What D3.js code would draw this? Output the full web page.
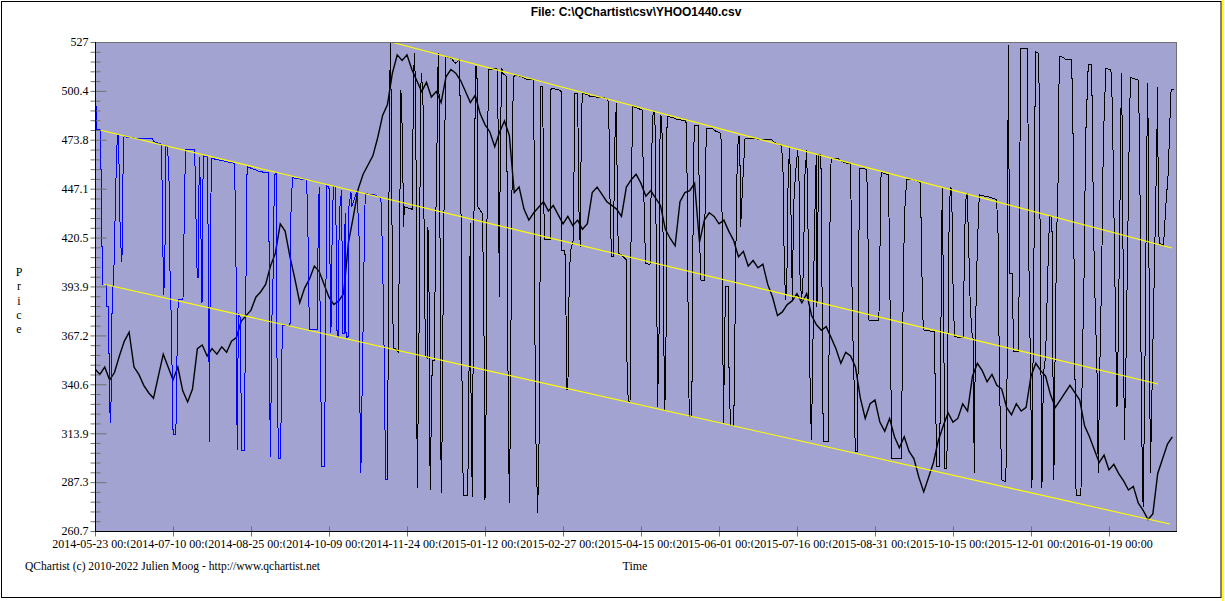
<!DOCTYPE html>
<html>
<head>
<meta charset="utf-8">
<script src="https://cdn.jsdelivr.net/npm/d3@7"></script>
<style>
  html, body { margin: 0; padding: 0; background: #ffffff; }
  svg { display: block; }
</style>
</head>
<body>
<svg id="chart" width="1225" height="601"></svg>
<script>
// ---------------- DATA ----------------
const chartTitle = "File: C:\\QChartist\\csv\\YHOO1440.csv";
const yTickLabels = ["260.7","287.3","313.9","340.6","367.2","393.9","420.5","447.1","473.8","500.4","527"];
const xTickDays = [0,32,64,96,128,160,192,224,256,288,320,352,384,416];
const xTickLabels = ["2014-05-23 00:00","2014-07-10 00:00","2014-08-25 00:00","2014-10-09 00:00",
  "2014-11-24 00:00","2015-01-12 00:00","2015-02-27 00:00","2015-04-15 00:00","2015-06-01 00:00",
  "2015-07-16 00:00","2015-08-31 00:00","2015-10-15 00:00","2015-12-01 00:00","2016-01-19 00:00"];

// close price sampled every 2 bars (bar index = 2*i)
const closePrices = [
  349,346,350,343,347,356,364,369,350,346,
  340,336,333,345,357,350,343,350,337,331,
  338,360,362,356,360,357,361,358,364,366,
  375,378,381,388,391,395,405,412,428,424,
  410,398,385,393,398,405,402,395,388,384,
  386,390,418,432,447,455,460,465,475,487,
  493,510,520,517,520,512,506,500,505,497,
  500,494,508,512,510,506,500,494,498,488,
  482,478,470,478,484,476,445,448,436,430,
  434,437,440,435,438,433,428,432,427,430,
  425,428,445,448,444,440,438,436,432,448,
  452,455,450,443,446,442,438,425,420,416,
  440,445,446,450,418,430,434,432,428,430,
  424,419,410,413,405,408,404,406,395,388,
  378,380,384,386,390,385,390,378,373,370,
  372,366,360,352,358,356,350,333,322,330,
  332,320,315,322,312,306,312,304,300,290,
  282,290,298,310,318,325,320,322,330,326,
  345,352,348,342,346,340,338,328,324,330,
  326,328,345,352,348,345,335,328,332,336,
  340,336,332,318,312,305,298,302,294,297,
  292,288,283,285,276,272,267,270,292,300,
  308,312
];
const closeBarStep = 2;

// channel signal line, [bar index, price] — blue part then black part
const signalBlue = [
  [0.3,495.4],[0.3,491.8],[0.8,491.8],[0.8,479.1],[2.2,479.1],[2.2,457.3],[2.6,457.3],[2.6,415.5],
  [3.0,415.5],[3.0,395.2],[4.9,394.7],[4.9,382.8],[5.5,382.8],[5.5,357.5],[5.9,357.5],[6.0,332.0],
  [6.3,319.3],[6.6,332.0],[7.1,393.7],[7.4,393.7],[7.9,408.3],[8.3,435.5],[8.8,462.7],[9.2,476.4],
  [9.7,476.4],[10.1,434.6],[10.7,413.7],[10.9,407.4],[11.2,413.7],[11.5,455.5],[11.9,475.4],
  [16.9,474.6],[23.5,474.2],[24.1,472.7],[27.2,471.3],[27.5,451.8],[27.9,410.1],[28.2,389.2],
  [28.6,402.8],[28.9,435.5],[29.1,470.0],[29.8,470.0],[30.4,450.0],[30.9,386.5],[31.5,374.7],
  [31.7,325.7],[32.1,313.0],[33.1,313.0],[33.4,325.7],[33.8,374.7],[34.2,386.5],[36.1,386.9],
  [36.4,411.9],[36.8,448.2],[37.2,468.6],[40.9,468.2],[41.2,448.2],[41.8,404.6],[42.3,398.3],
  [42.7,451.8],[42.9,464.5],[43.2,446.4],[43.6,410.1],[43.9,384.7],[44.3,451.8],[44.7,464.9],
  [46.1,464.5],[46.4,422.8],[46.8,348.4],[46.9,309.3],[47.2,386.5],[47.5,439.2],[47.9,463.6],
  [57.3,460.9],[57.7,421.0],[58.1,377.4],[58.3,304.8],[58.5,341.1],[59.0,379.3],[59.5,377.4],
  [59.8,370.2],[60.0,304.8],[61.3,304.4],[61.5,341.1],[61.8,377.4],[62.1,419.2],[62.4,459.1],
  [67.6,456.4],[71.0,455.8],[71.4,417.4],[71.7,341.1],[71.9,301.2],[72.2,328.4],[72.6,377.4],
  [73.0,393.7],[73.3,428.3],[73.7,454.6],[74.3,455.5],[74.5,377.4],[74.9,326.6],[75.4,300.3],
  [76.0,300.3],[76.3,317.5],[76.6,353.8],[77.0,372.9],[80.0,372.3],[80.4,433.7],[81.0,453.1],
  [86.8,451.8],[87.3,431.9],[87.5,408.3],[87.8,382.8],[88.2,370.2],[91.2,370.2],[91.6,430.1],
  [92.0,448.2],[92.4,370.2],[92.7,334.8],[93.0,295.7],[94.1,295.7],[94.4,334.8],[94.6,370.2],
  [95.1,448.6],[96.0,448.2],[96.4,408.3],[96.8,368.4],[97.4,433.7],[97.9,448.2],[98.5,448.2],
  [98.9,426.4],[99.3,368.4],[99.8,366.5],[100.2,433.7],[101.2,446.4],[101.6,368.4],[102.3,368.4],
  [102.6,433.7],[103.0,366.0],[103.9,366.5],[104.2,437.3],[105.0,445.5],[105.3,437.3],[107.4,445.5],
  [108.3,424.6],[108.7,328.4],[109.0,292.1],[109.3,304.8],[109.7,352.0],[110.2,384.7],[110.5,424.6],
  [110.9,444.4],[114.9,443.7],[117.3,441.9],[117.9,414.7],[118.5,370.2],[119.0,313.9],[119.3,288.5],
  [120.1,288.5]
];
const signalBlack = [
  [120.1,288.5],[120.3,382.8],[120.6,441.0],[121.0,510.0],[121.3,527.0],[122.0,401.0],[122.4,359.3],
  [123.1,360.2],[124.4,358.3],[125.0,426.4],[125.5,500.9],[126.1,477.3],[126.6,426.4],[126.9,437.3],
  [130.2,435.9],[130.6,499.1],[131.0,520.8],[131.6,500.9],[132.0,344.7],[132.2,283.9],[132.6,326.6],
  [133.2,401.0],[133.5,499.1],[134.0,510.0],[134.6,491.8],[135.1,411.9],[135.4,375.6],[135.7,355.6],
  [136.3,354.7],[136.6,426.4],[137.0,401.0],[137.3,308.5],[137.6,283.0],[138.0,328.4],[138.4,353.8],
  [139.2,353.8],[139.8,428.3],[140.4,479.1],[140.8,520.8],[141.4,480.9],[141.8,319.3],[142.1,281.2],
  [142.5,323.0],[142.9,401.0],[143.6,484.5],[144.0,519.0],[146.3,518.1],[147.7,515.4],[149.5,517.2],
  [150.0,479.1],[150.4,368.4],[150.7,323.0],[151.1,280.3],[152.9,280.3],[153.3,323.0],[153.7,390.2],
  [154.0,428.3],[154.3,323.0],[154.8,279.4],[155.2,372.0],[155.6,455.5],[156.2,513.5],[156.7,513.5],
  [157.0,437.3],[158.9,433.7],[159.5,390.2],[159.8,317.5],[160.0,277.6],[160.4,317.5],[160.8,426.4],
  [161.4,511.8],[164.8,512.7],[165.2,511.8],[165.6,437.3],[165.9,388.3],[166.3,473.6],[166.9,512.7],
  [167.3,510.0],[168.9,508.1],[169.2,393.7],[169.6,319.3],[170.0,275.8],[170.4,319.3],[170.9,419.2],
  [171.4,491.8],[171.9,508.1],[172.5,509.0],[175.7,507.7],[177.1,506.7],[179.8,506.3],[180.1,477.3],
  [180.5,364.7],[180.9,310.3],[181.6,270.3],[182.2,310.3],[182.6,401.0],[182.9,502.7],[183.5,502.7],
  [183.9,473.6],[184.3,422.8],[184.6,419.2],[186.7,419.2],[187.0,500.9],[187.4,501.8],[190.4,500.9],
  [191.2,500.0],[191.5,413.7],[192.8,413.7],[193.2,382.8],[193.6,337.5],[194.0,337.5],[194.6,401.0],
  [195.2,413.7],[196.2,419.2],[196.9,499.1],[198.0,499.1],[198.6,431.9],[199.1,415.5],[199.5,477.3],
  [199.9,499.1],[202.4,498.1],[203.1,497.2],[207.9,496.9],[209.9,496.3],[210.6,494.5],[211.0,473.6],
  [211.4,430.1],[212.0,410.1],[212.6,410.1],[213.3,473.6],[213.9,493.6],[214.3,442.7],[214.7,411.9],
  [216.1,411.0],[218.0,408.3],[218.3,346.6],[218.8,331.1],[219.5,331.1],[219.8,401.0],[220.2,460.9],
  [220.6,491.8],[224.5,490.0],[224.9,459.1],[225.6,419.2],[226.0,406.5],[227.7,405.6],[228.1,441.0],
  [228.6,477.3],[229.0,489.0],[229.7,489.0],[230.1,437.3],[230.6,368.4],[230.8,328.4],[231.4,368.4],
  [231.8,473.6],[232.2,487.2],[232.8,473.6],[233.3,368.4],[233.8,326.6],[234.3,368.4],[234.7,486.3],
  [237.2,486.0],[238.6,484.9],[242.1,484.1],[242.7,482.7],[243.1,422.8],[243.4,364.7],[243.8,323.0],
  [244.8,323.0],[245.1,364.7],[245.5,455.5],[245.9,481.8],[247.6,481.3],[248.0,430.1],[248.4,397.4],
  [250.0,397.0],[250.3,437.3],[250.8,480.0],[253.0,480.0],[255.0,478.2],[256.8,477.3],[257.4,419.2],
  [257.6,357.5],[257.9,319.3],[258.2,357.5],[258.7,393.7],[259.8,393.7],[260.2,337.5],[260.8,318.4],
  [262.0,318.4],[262.3,337.5],[262.8,401.0],[263.4,455.5],[263.9,475.4],[264.5,475.4],[264.9,426.4],
  [265.8,451.8],[266.7,474.6],[270.8,474.2],[277.6,474.0],[278.3,472.7],[281.7,470.4],[282.3,455.5],
  [282.8,402.8],[283.4,386.5],[283.9,402.8],[284.4,455.5],[285.0,469.7],[285.5,437.3],[286.1,386.5],
  [286.6,437.3],[287.4,455.5],[288.3,468.2],[288.8,455.5],[289.2,401.0],[289.9,386.5],[290.6,401.0],
  [291.3,455.5],[292.0,468.2],[292.6,419.2],[293.3,346.6],[293.9,310.3],[294.4,346.6],[295.1,419.2],
  [295.9,465.5],[296.0,404.6],[296.2,382.8],[296.5,419.2],[296.9,465.5],[297.8,465.5],[298.1,426.4],
  [298.5,348.4],[298.8,309.3],[300.8,309.3],[301.1,348.4],[301.5,424.6],[302.0,463.6],[305.0,463.3],
  [305.6,462.4],[309.1,460.6],[309.9,460.9],[310.2,439.2],[310.7,379.3],[311.5,337.5],[311.9,303.9],
  [312.7,303.9],[313.0,337.5],[313.4,419.2],[313.8,458.2],[316.6,457.7],[317.0,437.3],[317.5,375.6],
  [321.6,375.3],[322.1,419.2],[322.5,455.5],[322.8,455.8],[325.5,454.6],[325.9,419.2],[326.5,346.6],
  [326.9,300.3],[330.7,300.3],[331.2,346.6],[331.8,411.9],[332.3,437.3],[333.0,452.2],[336.4,451.8],
  [338.7,450.4],[339.1,410.1],[339.8,370.2],[344.3,369.2],[344.9,328.4],[345.4,295.7],[346.5,295.7],
  [346.9,346.6],[347.3,410.1],[347.6,448.2],[348.0,401.0],[348.7,294.8],[349.5,294.8],[349.8,346.6],
  [350.4,426.4],[350.9,448.2],[351.5,446.4],[351.9,401.0],[352.6,366.5],[356.3,366.0],[356.7,419.2],
  [357.3,441.0],[357.8,444.6],[358.4,419.2],[359.1,382.8],[359.8,368.4],[360.4,364.7],[360.7,292.1],
  [361.2,364.7],[361.7,401.0],[362.4,430.1],[362.8,443.7],[366.5,442.7],[369.9,441.2],[370.6,419.2],
  [370.9,364.7],[371.3,328.4],[372.0,288.5],[373.7,287.5],[374.2,346.6],[374.5,455.5],[374.7,525.4],
  [375.0,455.5],[375.3,401.0],[376.4,401.0],[376.8,358.3],[378.9,358.3],[379.3,419.2],[379.7,523.6],
  [382.4,523.6],[382.8,480.9],[383.2,401.0],[383.7,357.5],[384.0,328.4],[384.4,283.9],[384.8,346.6],
  [385.4,437.3],[385.8,521.7],[387.2,520.8],[387.6,455.5],[388.0,364.7],[388.5,283.9],[389.1,346.6],
  [390.0,355.6],[390.9,401.0],[391.6,431.9],[392.6,431.9],[392.8,382.8],[393.4,288.5],[393.8,346.6],
  [394.5,419.2],[395.2,455.5],[395.6,519.0],[397.3,518.7],[398.2,517.2],[400.7,517.2],[401.3,473.6],
  [401.8,382.8],[402.5,280.3],[404.5,279.9],[405.0,346.6],[405.8,401.0],[406.4,473.6],[407.5,514.5],
  [408.9,514.5],[409.4,455.5],[410.0,401.0],[411.1,346.6],[411.6,292.1],[412.2,346.6],[413.0,401.0],
  [413.7,473.6],[414.7,512.7],[416.8,511.8],[417.4,491.8],[418.0,437.3],[418.8,364.7],[419.3,328.4],
  [419.8,364.7],[420.5,437.3],[421.1,510.0],[421.5,473.6],[421.9,382.8],[422.3,310.3],[422.9,346.6],
  [423.7,419.2],[424.3,473.6],[424.8,507.7],[428.0,506.3],[428.6,473.6],[429.1,364.7],[429.5,310.3],
  [430.0,273.9],[430.6,328.4],[431.1,401.0],[431.5,465.5],[431.9,504.5],[432.2,455.5],[432.6,364.7],
  [433.0,292.1],[433.8,346.6],[434.6,401.0],[435.4,455.5],[436.0,502.7],[436.2,437.3],[436.6,417.4],
  [438.3,416.5],[438.7,422.8],[439.3,437.3],[440.3,455.5],[441.2,491.8],[441.5,500.9],[442.7,500.9]
];

// regression channel lines [bar index, price]
const channelUpper  = [[122.7,526.6],[441.8,414.8]];
const channelMiddle = [[2.0,479.1],[436.1,340.8]];
const channelLower  = [[3.3,395.2],[441.0,264.5]];

// ---------------- LAYOUT ----------------
const W = 1225, H = 601;
const plot = { left: 95, right: 1176, top: 42, bottom: 531 };
const serif = "'Liberation Serif','Times New Roman',Times,serif";
const sans = "'Liberation Sans',Arial,Helvetica,sans-serif";

const svg = d3.select("#chart");

const x = d3.scaleLinear().domain([0, 443.5]).range([plot.left, plot.right]);
const y = d3.scaleLinear().domain([260.7, 527]).range([plot.bottom, plot.top]);

// outer frame
svg.append("rect").attr("x", 1.5).attr("y", 1.5).attr("width", 1219.5).attr("height", 596)
  .attr("fill", "none").attr("stroke", "#000").attr("stroke-width", 1);
svg.append("rect").attr("x", 1222).attr("y", 0).attr("width", 2).attr("height", H).attr("fill", "#ffff00");

// title
svg.append("text").attr("x", 636).attr("y", 16).attr("text-anchor", "middle")
  .attr("font-family", sans).attr("font-size", 12).attr("font-weight", "bold")
  .text(chartTitle);

// plot background
svg.append("rect").attr("x", plot.left).attr("y", plot.top)
  .attr("width", plot.right - plot.left).attr("height", plot.bottom - plot.top)
  .attr("fill", "#a3a3d1");

svg.append("defs").append("clipPath").attr("id", "clip")
  .append("rect").attr("x", plot.left).attr("y", plot.top)
  .attr("width", plot.right - plot.left).attr("height", plot.bottom - plot.top);

const g = svg.append("g").attr("clip-path", "url(#clip)");

// close price
const closeData = closePrices.map((v, i) => [i * closeBarStep, v]);
const line = d3.line().x(d => x(d[0])).y(d => y(d[1]));
g.append("path").datum(closeData).attr("d", line)
  .attr("fill", "none").attr("stroke", "#000").attr("stroke-width", 1.4);

// signal line
g.append("path").datum(signalBlack).attr("d", line)
  .attr("fill", "none").attr("stroke", "#000").attr("stroke-width", 1)
  .attr("shape-rendering", "crispEdges");
g.append("path").datum(signalBlue).attr("d", line)
  .attr("fill", "none").attr("stroke", "#0000ff").attr("stroke-width", 1)
  .attr("shape-rendering", "crispEdges");

// channel lines
[channelUpper, channelMiddle, channelLower].forEach(c => {
  g.append("path").datum(c).attr("d", line)
    .attr("fill", "none").attr("stroke", "#ffff00").attr("stroke-width", 1.1);
});

// plot borders: top & right grey
svg.append("line").attr("x1", plot.left).attr("x2", plot.right + 0.5)
  .attr("y1", plot.top + 0.5).attr("y2", plot.top + 0.5).attr("stroke", "#707070");
svg.append("line").attr("x1", plot.right + 0.5).attr("x2", plot.right + 0.5)
  .attr("y1", plot.top).attr("y2", plot.bottom).attr("stroke", "#707070");

// Y axis
const yVals = yTickLabels.map(Number);
const yStep = (527 - 260.7) / 10;
const minorVals = [];
for (let k = 0; k < 10; k++) for (let m = 1; m < 5; m++) minorVals.push(260.7 + yStep * k + yStep * m / 5);

const yMinor = svg.append("g").attr("transform", `translate(${plot.left + 0.5},0)`)
  .call(d3.axisLeft(y).tickValues(minorVals).tickFormat("").tickSize(5).tickSizeOuter(0));
yMinor.select(".domain").remove();
yMinor.selectAll(".tick line").attr("x1", 5).attr("stroke", "#707070");

const yAxis = svg.append("g").attr("transform", `translate(${plot.left + 0.5},0)`)
  .call(d3.axisLeft(y).tickValues(yVals).tickFormat((d, i) => yTickLabels[i]).tickSize(5).tickPadding(2).tickSizeOuter(0));
yAxis.select(".domain").remove();
yAxis.selectAll(".tick line").attr("x1", 11).attr("stroke", "#707070");
yAxis.selectAll(".tick text").attr("font-family", serif).attr("font-size", 12).attr("fill", "#000");

// X axis
const xAxis = svg.append("g").attr("transform", `translate(0,${plot.bottom + 0.5})`)
  .call(d3.axisBottom(x).tickValues(xTickDays).tickFormat((d, i) => xTickLabels[i]).tickSize(5).tickPadding(3).tickSizeOuter(0));
xAxis.select(".domain").remove();
xAxis.selectAll(".tick line").attr("y1", -5).attr("stroke", "#707070");
xAxis.selectAll(".tick text").attr("font-family", serif).attr("font-size", 12).attr("fill", "#000");
xAxis.selectAll(".tick").each(function() {
  const t = d3.select(this).select("text");
  const bb = t.node().getBBox();
  d3.select(this).insert("rect", "text")
    .attr("x", bb.x - 1).attr("y", bb.y).attr("width", bb.width + 1).attr("height", bb.height)
    .attr("fill", "#fff");
});

// axis lines (black left & bottom)
svg.append("line").attr("x1", plot.left + 0.5).attr("x2", plot.left + 0.5)
  .attr("y1", plot.top).attr("y2", plot.bottom + 1).attr("stroke", "#000");
svg.append("line").attr("x1", plot.left).attr("x2", plot.right + 1)
  .attr("y1", plot.bottom + 0.5).attr("y2", plot.bottom + 0.5).attr("stroke", "#000");

// axis titles
const priceLetters = "Price".split("");
svg.append("g").selectAll("text").data(priceLetters).join("text")
  .attr("x", 19).attr("y", (d, i) => 276 + i * 14.3).attr("text-anchor", "middle")
  .attr("font-family", serif).attr("font-size", 12).text(d => d);

svg.append("text").attr("x", 635).attr("y", 570).attr("text-anchor", "middle")
  .attr("font-family", serif).attr("font-size", 12).text("Time");

svg.append("text").attr("x", 25).attr("y", 570)
  .attr("font-family", serif).attr("font-size", 12).attr("textLength", 295)
  .attr("lengthAdjust", "spacingAndGlyphs")
  .text("QChartist (c) 2010-2022 Julien Moog - http://www.qchartist.net");
</script>
</body>
</html>
